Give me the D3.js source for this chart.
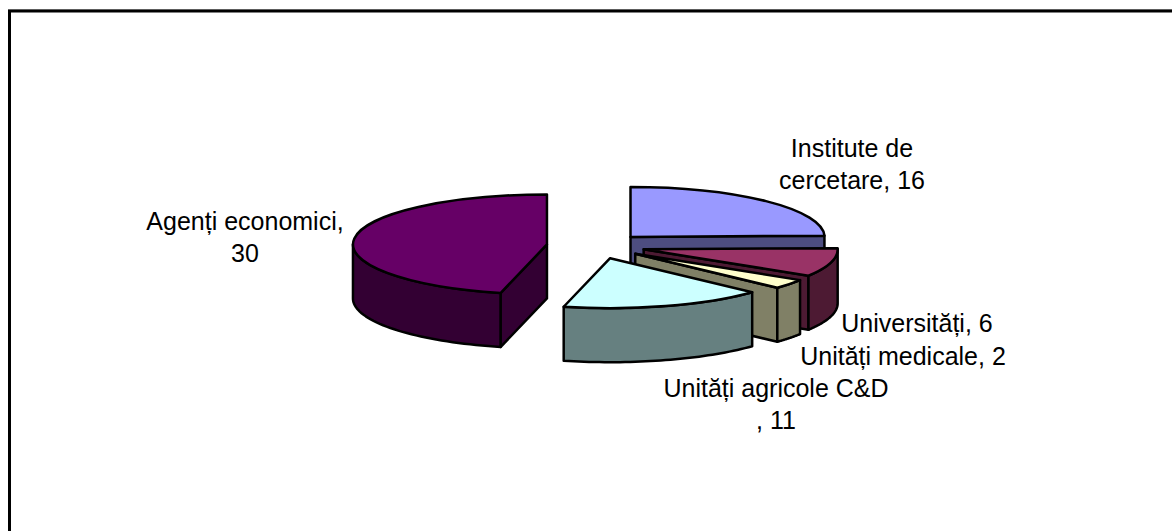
<!DOCTYPE html>
<html>
<head>
<meta charset="utf-8">
<script src="https://cdn.jsdelivr.net/npm/d3@7"></script>
<style>
  html, body { margin: 0; padding: 0; background: #fff; }
  svg { display: block; }
  text { font-family: "Liberation Sans", Arial, sans-serif; font-size: 25px; fill: #000; }
</style>
</head>
<body>
<div id="chart"></div>
<script>
// Valeurs
const categories = ['Institute de cercetare', 'Universități', 'Unități medicale', 'Unități agricole C&D', 'Agenți economici'];
const values     = [16, 6, 2, 11, 30];
const topColors  = ['#9999ff', '#993366', '#ffffcc', '#ccffff', '#660066'];
const sideColors = ['#4d4d80', '#4d1a33', '#808066', '#668080', '#330033'];
const labelLines = [
  ['Institute de', 'cercetare, 16'],
  ['Universități, 6'],
  ['Unități medicale, 2'],
  ['Unități agricole C&D', ', 11'],
  ['Agenți economici,', '30'],
];
const labelPos = [[852, 157], [917, 332], [903, 365], [776, 397], [245, 230]];

const W = 1172, H = 531;
const cx = 596, cy = 246, rx = 194, ry = 50, depth = 54, explode = 49.4;
const squash = ry / rx;

const svg = d3.select('#chart').append('svg').attr('width', W).attr('height', H);

// Cadre : seuls les bords haut et gauche sont dans l'image
svg.append('line').attr('x1', 8).attr('x2', W).attr('y1', 9.5).attr('y2', 9.5)
  .attr('stroke', '#bbb').attr('stroke-width', 1);
svg.append('path')
  .attr('d', `M${W},11 H9.5 V${H}`)
  .attr('fill', 'none').attr('stroke', '#000').attr('stroke-width', 3);

const pie = d3.pie().sort(null).startAngle(0).endAngle(2 * Math.PI);
const arcs = pie(values);
const arcGen = d3.arc().innerRadius(0).outerRadius(rx);

// Passage du plan du disque à l'écran
const onDisk = (ox, oy, angle, r, z = 0) => [
  ox + r * Math.sin(angle),
  oy - r * squash * Math.cos(angle) + z,
];
const line = d3.line();

const slices = svg.selectAll('.slice')
  .data(arcs).join('g')
  .attr('class', 'slice')
  .each(function(d) {
    const g = d3.select(this);
    const mid = (d.startAngle + d.endAngle) / 2;
    const ox = cx + explode * Math.sin(mid);
    const oy = cy - explode * squash * Math.cos(mid);
    const side = sideColors[d.index];
    const wallStyle = sel => sel.attr('fill', side).attr('stroke', '#000')
      .attr('stroke-width', 2.5).attr('stroke-linejoin', 'round');

    const radialWall = a => {
      const p0 = onDisk(ox, oy, a, 0), p1 = onDisk(ox, oy, a, rx);
      const q1 = onDisk(ox, oy, a, rx, depth), q0 = onDisk(ox, oy, a, 0, depth);
      g.append('path').attr('d', line([p0, p1, q1, q0]) + 'Z').call(wallStyle);
    };
    if (Math.sin(d.startAngle) < -1e-6) radialWall(d.startAngle);
    if (Math.sin(d.endAngle) > 1e-6) radialWall(d.endAngle);

    // Paroi extérieure : seulement la partie tournée vers le bas
    const a0 = Math.max(d.startAngle, Math.PI / 2);
    const a1 = Math.min(d.endAngle, 3 * Math.PI / 2);
    if (a1 > a0) {
      const steps = d3.range(0, 41).map(i => a0 + (a1 - a0) * i / 40);
      const upper = steps.map(a => onDisk(ox, oy, a, rx));
      const lower = steps.map(a => onDisk(ox, oy, a, rx, depth)).reverse();
      g.append('path').attr('d', line(upper.concat(lower)) + 'Z').call(wallStyle);
    }

    g.append('path')
      .attr('transform', `translate(${ox},${oy}) scale(1,${squash})`)
      .attr('d', arcGen(d))
      .attr('fill', topColors[d.index])
      .attr('stroke', '#000')
      .attr('stroke-width', 2.5)
      .attr('stroke-linejoin', 'round')
      .attr('vector-effect', 'non-scaling-stroke');
  });

svg.selectAll('.label')
  .data(labelLines).join('text')
  .attr('class', 'label')
  .attr('text-anchor', 'middle')
  .attr('transform', (d, i) => `translate(${labelPos[i][0]},${labelPos[i][1]})`)
  .selectAll('tspan')
  .data(d => d).join('tspan')
  .attr('x', 0)
  .attr('dy', (d, i) => i ? 32 : 0)
  .text(d => d);
</script>
</body>
</html>
